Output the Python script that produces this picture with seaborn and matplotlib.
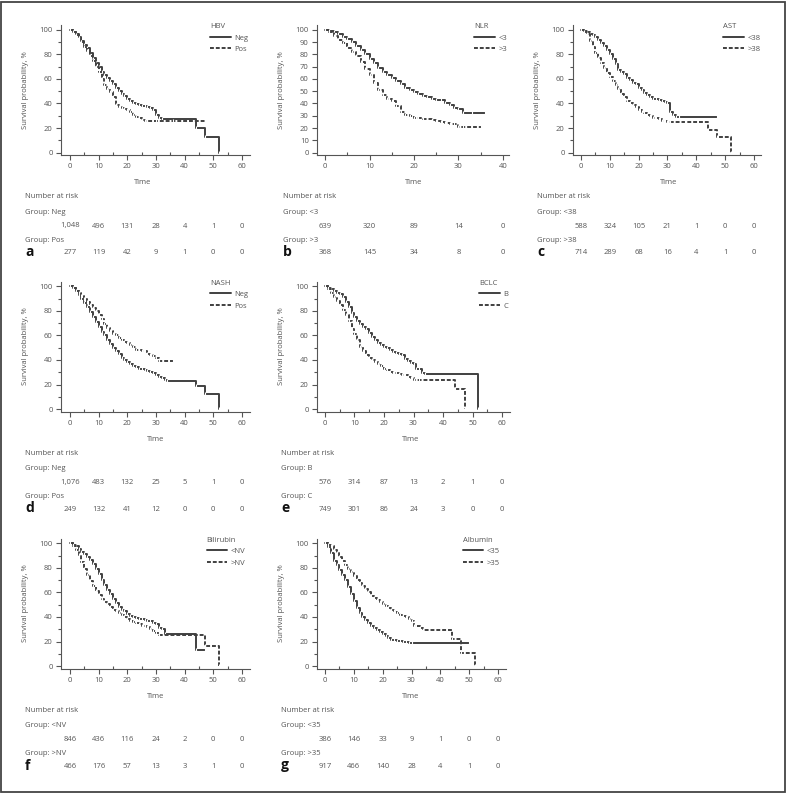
import matplotlib
matplotlib.use("Agg")
import matplotlib.pyplot as plt
import matplotlib.transforms as mtransforms
from matplotlib.lines import Line2D
from matplotlib.patches import Rectangle
import pandas as pd
import seaborn as sns

# ---------------- data ----------------
# a: HBV
hbv_neg_t = [0, 1, 2, 3, 4, 5, 6, 7, 8, 9, 10, 11, 12, 13, 14, 15, 16, 17, 18, 19, 20, 21, 22, 23, 24, 25, 26, 27, 28, 29, 30, 31, 32, 44, 47, 52]
hbv_neg_s = [100, 98.5, 97, 94, 91, 88, 85, 81, 77, 73, 70, 66, 63, 60.5, 58, 55.5, 53, 50.5, 48, 46, 44, 42, 40.5, 39.5, 38.5, 38, 38, 37.5, 36, 34.5, 31, 28.5, 27, 20, 13, 0]
hbv_pos_t = [0, 1, 2, 3, 4, 5, 6, 7, 8, 9, 10, 11, 12, 13, 14, 15, 16, 17, 18, 19, 20, 21, 22, 23, 24, 25, 26, 30, 36, 47]
hbv_pos_s = [100, 98, 96, 93, 90, 86, 83, 79, 75, 70, 66, 60, 55, 52, 49, 45, 39, 37, 36, 35.5, 34.5, 33, 31, 29, 28, 26.5, 26, 26, 26, 26]
# b: NLR
nlr_lo_t = [0, 1, 2, 3, 4, 5, 6, 7, 8, 9, 10, 11, 12, 13, 14, 15, 16, 17, 18, 19, 20, 21, 22, 23, 24, 25, 26, 27, 28, 29, 30, 31, 33, 36]
nlr_lo_s = [100, 99, 98, 96.5, 94.5, 92.5, 90, 87, 83.5, 80, 76, 73, 69, 66, 63, 60.5, 58, 55.5, 53, 51, 49, 47.5, 46, 45, 44, 43, 42.5, 40.5, 38.5, 36.5, 35.5, 32, 32, 32]
nlr_hi_t = [0, 1, 2, 3, 4, 5, 6, 7, 8, 9, 10, 11, 12, 13, 14, 15, 16, 17, 18, 19, 20, 21, 22, 23, 24, 25, 26, 27, 28, 29, 30, 31, 33, 35]
nlr_hi_s = [100, 98, 95, 92, 89, 85, 82, 79, 74, 68, 63, 57, 51, 47, 44, 42, 38, 33, 31, 29.5, 28.5, 28, 27.5, 27, 26.5, 25.5, 25, 24, 23.5, 23, 21, 21, 20.5, 20.5]
# c: AST
ast_lo_t = [0, 1, 2, 3, 4, 5, 6, 7, 8, 9, 10, 11, 12, 13, 14, 15, 16, 17, 18, 19, 20, 21, 22, 23, 24, 25, 26, 27, 28, 29, 30, 31, 32, 33, 34, 47]
ast_lo_s = [100, 99, 98, 97, 95.5, 94, 92, 89.5, 87, 84, 80, 76, 72, 67.5, 66, 64, 61, 59, 57, 55.5, 53, 51, 48.5, 47, 45, 44, 43.5, 43, 42, 41.5, 40, 33, 31, 29, 28.7, 28.7]
ast_hi_t = [0, 1, 2, 3, 4, 5, 6, 7, 8, 9, 10, 11, 12, 13, 14, 15, 16, 17, 18, 19, 20, 21, 22, 23, 24, 25, 26, 27, 28, 29, 30, 31, 36, 44, 47, 52]
ast_hi_s = [100, 98.5, 97, 91, 86, 81, 77, 73, 69, 65, 62, 58.5, 55, 51.5, 48, 45, 42, 40.5, 38.5, 37, 34.5, 33, 32, 30.5, 29.5, 28.5, 28.5, 27, 26, 25.5, 25, 24.5, 24.5, 18.5, 12.5, 0]
# d: NASH
nash_neg_t = [0, 1, 2, 3, 4, 5, 6, 7, 8, 9, 10, 11, 12, 13, 14, 15, 16, 17, 18, 19, 20, 21, 22, 23, 24, 25, 26, 27, 28, 29, 30, 31, 32, 33, 34, 44, 47, 52]
nash_neg_s = [100, 98.5, 96, 93, 90, 86.5, 83, 79, 75, 71, 67, 63, 60, 56.5, 53, 50, 47, 44.5, 42, 40, 38, 36.5, 35, 34, 33, 32.5, 32, 31, 30.5, 29, 27.5, 26, 25, 24, 23.2, 18.6, 12.3, 0]
nash_pos_t = [0, 1, 2, 3, 4, 5, 6, 7, 8, 9, 10, 11, 12, 13, 14, 15, 16, 17, 18, 19, 20, 21, 22, 23, 24, 25, 26, 27, 28, 29, 30, 31, 36]
nash_pos_s = [100, 98.5, 96.5, 94.5, 92.5, 90, 87.5, 85, 82.5, 80, 77, 73.5, 69.5, 66, 63.5, 61.5, 60, 58, 56, 55, 53.5, 52, 50.5, 48.5, 48, 47.5, 47.5, 44.5, 44, 43.5, 42, 39.5, 39.5]
# e: BCLC
bclc_b_t = [0, 1, 2, 3, 4, 5, 6, 7, 8, 9, 10, 11, 12, 13, 14, 15, 16, 17, 18, 19, 20, 21, 22, 23, 24, 25, 26, 27, 28, 29, 30, 31, 32, 33, 34, 52]
bclc_b_s = [100, 99, 97.5, 96, 95, 94, 91, 87, 83, 78.5, 75, 71.5, 69, 67, 65, 62, 58.5, 56, 54, 52, 50.5, 49.5, 48.5, 46.5, 45.5, 45, 44, 40.5, 39.5, 37.5, 37, 33, 32.5, 29, 28.7, 0]
bclc_c_t = [0, 1, 2, 3, 4, 5, 6, 7, 8, 9, 10, 11, 12, 13, 14, 15, 16, 17, 18, 19, 20, 21, 22, 23, 24, 25, 26, 27, 28, 29, 30, 31, 32, 33, 44, 47.3]
bclc_c_s = [100, 98, 94.5, 91, 88, 84.5, 80.5, 76.5, 72, 65.5, 61, 56, 51, 47.5, 44, 42, 40, 38.5, 36.5, 35, 33, 31.5, 30, 29.5, 29, 28.5, 28, 27.5, 26.5, 25, 24, 23.5, 23.5, 23.5, 16.4, 0]
# f: Bilirubin
bil_lo_t = [0, 1, 2, 3, 4, 5, 6, 7, 8, 9, 10, 11, 12, 13, 14, 15, 16, 17, 18, 19, 20, 21, 22, 23, 24, 25, 26, 27, 28, 29, 30, 31, 32, 33, 44, 47]
bil_lo_s = [100, 99, 97.5, 95.5, 93, 91, 89, 86.5, 83.5, 79.5, 75, 70, 66, 62, 58.5, 55, 51.5, 48.5, 46, 44.5, 42.5, 41, 40, 39, 38.5, 38, 37.5, 37, 36.5, 35.5, 34, 31, 30, 26.5, 13, 13]
bil_hi_t = [0, 1, 2, 3, 4, 5, 6, 7, 8, 9, 10, 11, 12, 13, 14, 15, 16, 17, 18, 19, 20, 21, 22, 23, 24, 25, 26, 27, 28, 29, 30, 31, 47, 52]
bil_hi_s = [100, 98, 95, 90.5, 85, 79, 74, 69, 65, 61, 58, 55, 52.5, 50.5, 48, 46, 44.5, 43, 41.5, 40, 38.5, 37, 36, 35, 34, 33, 32.5, 31.5, 30, 28.5, 27, 25.4, 16.4, 0]
# g: Albumin
alb_lo_t = [0, 1, 2, 3, 4, 5, 6, 7, 8, 9, 10, 11, 12, 13, 14, 15, 16, 17, 18, 19, 20, 21, 22, 23, 24, 25, 26, 27, 28, 29, 30, 50]
alb_lo_s = [100, 97, 92, 86, 82, 78, 74.5, 70, 64.5, 58.5, 53, 47, 43.5, 40, 37.5, 35, 33, 31, 29.5, 27.5, 26, 24.5, 22.5, 21.5, 21, 20.5, 20.5, 20, 19.5, 19, 19, 19]
alb_hi_t = [0, 1, 2, 3, 4, 5, 6, 7, 8, 9, 10, 11, 12, 13, 14, 15, 16, 17, 18, 19, 20, 21, 22, 23, 24, 25, 26, 27, 28, 29, 30, 31, 33, 34, 44, 47, 52]
alb_hi_s = [100, 99, 97.5, 95, 92, 89, 85.5, 82.5, 79.5, 76.5, 73.5, 70, 67.5, 65.5, 62.5, 60, 57, 55.5, 54, 52, 50.5, 49, 47, 46, 44.5, 43, 42, 41, 40, 38, 36.5, 33, 31, 29.5, 22, 11, 0]

# numbers at risk
risk_times_60 = [0, 10, 20, 30, 40, 50, 60]
risk_times_40 = [0, 10, 20, 30, 40]
hbv_risk_neg = [1048, 496, 131, 28, 4, 1, 0]
hbv_risk_pos = [277, 119, 42, 9, 1, 0, 0]
nlr_risk_lo = [639, 320, 89, 14, 0]
nlr_risk_hi = [368, 145, 34, 8, 0]
ast_risk_lo = [588, 324, 105, 21, 1, 0, 0]
ast_risk_hi = [714, 289, 68, 16, 4, 1, 0]
nash_risk_neg = [1076, 483, 132, 25, 5, 1, 0]
nash_risk_pos = [249, 132, 41, 12, 0, 0, 0]
bclc_risk_b = [576, 314, 87, 13, 2, 1, 0]
bclc_risk_c = [749, 301, 86, 24, 3, 0, 0]
bil_risk_lo = [846, 436, 116, 24, 2, 0, 0]
bil_risk_hi = [466, 176, 57, 13, 3, 1, 0]
alb_risk_lo = [386, 146, 33, 9, 1, 0, 0]
alb_risk_hi = [917, 466, 140, 28, 4, 1, 0]

# ---------------- style ----------------
sns.set_style("ticks")
plt.rcParams["font.family"] = ["Open Sans", "DejaVu Sans"]
TXT = "#555555"
LINE = "#404040"
FS = 5.5
LW = 1.4

W, H = 787, 793
fig = plt.figure(figsize=(W / 100, H / 100), dpi=100)


def fy(py):
    return 1 - py / H


panels = [
    dict(letter="a", title="HBV", labels=["Neg", "Pos"],
         curves=[(hbv_neg_t, hbv_neg_s), (hbv_pos_t, hbv_pos_s)],
         risk=[hbv_risk_neg, hbv_risk_pos], rt=risk_times_60,
         rect=(61, 25, 250, 155), xlim=(-3.14, 62.8), xmax=60, ystep=20,
         tx=0.434, lx=0.788, txt_x=25, row=0),
    dict(letter="b", title="NLR", labels=["<3", ">3"],
         curves=[(nlr_lo_t, nlr_lo_s), (nlr_hi_t, nlr_hi_s)],
         risk=[nlr_risk_lo, nlr_risk_hi], rt=risk_times_40,
         rect=(317, 25, 509, 155), xlim=(-1.8, 41.35), xmax=40, ystep=10,
         tx=0.505, lx=0.818, txt_x=283, row=0),
    dict(letter="c", title="AST", labels=["<38", ">38"],
         curves=[(ast_lo_t, ast_lo_s), (ast_hi_t, ast_hi_s)],
         risk=[ast_risk_lo, ast_risk_hi], rt=risk_times_60,
         rect=(573, 25, 761, 155), xlim=(-2.77, 62.43), xmax=60, ystep=20,
         tx=0.51, lx=0.80, txt_x=537, row=0),
    dict(letter="d", title="NASH", labels=["Neg", "Pos"],
         curves=[(nash_neg_t, nash_neg_s), (nash_pos_t, nash_pos_s)],
         risk=[nash_risk_neg, nash_risk_pos], rt=risk_times_60,
         rect=(61, 281.5, 250, 411.5), xlim=(-3.14, 62.8), xmax=60, ystep=20,
         tx=0.50, lx=0.788, txt_x=25, row=1),
    dict(letter="e", title="BCLC", labels=["B", "C"],
         curves=[(bclc_b_t, bclc_b_s), (bclc_c_t, bclc_c_s)],
         risk=[bclc_risk_b, bclc_risk_c], rt=risk_times_60,
         rect=(317, 281.5, 510, 411.5), xlim=(-2.71, 62.71), xmax=60, ystep=20,
         tx=0.484, lx=0.84, txt_x=281, row=1),
    dict(letter="f", title="Bilirubin", labels=["<NV", ">NV"],
         curves=[(bil_lo_t, bil_lo_s), (bil_hi_t, bil_hi_s)],
         risk=[bil_risk_lo, bil_risk_hi], rt=risk_times_60,
         rect=(61, 538.5, 250, 668.5), xlim=(-3.14, 62.8), xmax=60, ystep=20,
         tx=0.50, lx=0.77, txt_x=25, row=2),
    dict(letter="g", title="Albumin", labels=["<35", ">35"],
         curves=[(alb_lo_t, alb_lo_s), (alb_hi_t, alb_hi_s)],
         risk=[alb_risk_lo, alb_risk_hi], rt=risk_times_60,
         rect=(317, 538.5, 506, 668.5), xlim=(-2.77, 62.77), xmax=60, ystep=20,
         tx=0.495, lx=0.77, txt_x=281, row=2),
]

row_off = [0, 256.5, 513.5]
DASH = (2.0, 1.0)

for p in panels:
    l, t, r, b = p["rect"]
    ax = fig.add_axes([l / W, 1 - b / H, (r - l) / W, (b - t) / H])
    frames = []
    for lab, (tt, ss) in zip(p["labels"], p["curves"]):
        frames.append(pd.DataFrame({"Time": tt, "S": ss, "Group": lab}))
    df = pd.concat(frames, ignore_index=True)
    sns.lineplot(data=df, x="Time", y="S", style="Group", ax=ax, color=LINE,
                 estimator=None, sort=True, drawstyle="steps-post",
                 dashes={p["labels"][0]: "", p["labels"][1]: DASH},
                 markers={p["labels"][0]: "|", p["labels"][1]: "|"},
                 markersize=2.2, markeredgewidth=0.8, linewidth=LW, legend=False)
    ax.set_xlim(*p["xlim"])
    ax.set_ylim(-2, 104)
    ax.set_xticks(range(0, p["xmax"] + 1, 10))
    ax.set_xticks(range(5, p["xmax"], 10), minor=True)
    ax.set_yticks(range(0, 101, p["ystep"]))
    if p["ystep"] == 20:
        ax.set_yticks(range(10, 100, 20), minor=True)
    for sp in ["top", "right"]:
        ax.spines[sp].set_visible(False)
    for sp in ["left", "bottom"]:
        ax.spines[sp].set_color(TXT)
        ax.spines[sp].set_linewidth(0.8)
    ax.tick_params(axis="both", which="major", direction="out", length=3.5,
                   width=0.8, color=TXT, labelsize=FS, labelcolor=TXT, pad=2.5)
    ax.tick_params(axis="x", which="minor", direction="in", length=2.5, width=0.8, color=TXT)
    ax.tick_params(axis="y", which="minor", direction="out", length=2.5, width=0.8, color=TXT)
    ax.set_xlabel("Time", fontsize=FS, color=TXT)
    ax.set_ylabel("Survival probability, %", fontsize=FS, color=TXT)
    ax.xaxis.set_label_coords(p["tx"], -28 / 130)
    ax.yaxis.set_label_coords(-32 / (r - l), 0.5)
    ax.xaxis.label.set_va("center")

    handles = [Line2D([0], [0], color=LINE, lw=LW),
               Line2D([0], [0], color=LINE, lw=LW, dashes=DASH)]
    leg = ax.legend(handles, p["labels"], title=p["title"], loc="upper left",
                    bbox_to_anchor=(p["lx"], 1.015), frameon=False, alignment="left",
                    borderpad=0, borderaxespad=0, handlelength=2.7, handletextpad=0.5,
                    labelspacing=0.55, fontsize=FS, title_fontsize=FS)
    for txt in leg.get_texts():
        txt.set_color(TXT)
    leg.get_title().set_color(TXT)

    off = row_off[p["row"]]
    x0 = p["txt_x"] / W
    fig.text(x0, fy(197 + off), "Number at risk", fontsize=FS, color=TXT, va="center", ha="left")
    fig.text(x0, fy(212 + off), "Group: " + p["labels"][0], fontsize=FS, color=TXT, va="center", ha="left")
    fig.text(x0, fy(240 + off), "Group: " + p["labels"][1], fontsize=FS, color=TXT, va="center", ha="left")
    fig.text(x0, fy(252 + off), p["letter"], fontsize=10, fontweight="bold", color="#111111",
             va="center", ha="left")
    trans = mtransforms.blended_transform_factory(ax.transData, fig.transFigure)
    for tv, n1, n2 in zip(p["rt"], p["risk"][0], p["risk"][1]):
        ax.text(tv, fy(226 + off), f"{n1:,}", transform=trans, fontsize=FS, color=TXT,
                ha="center", va="center", clip_on=False)
        ax.text(tv, fy(253 + off), f"{n2:,}", transform=trans, fontsize=FS, color=TXT,
                ha="center", va="center", clip_on=False)

fig.add_artist(Rectangle((0.6 / W, 0.6 / H), (W - 3) / W, (H - 3) / H, transform=fig.transFigure,
                         fill=False, edgecolor="#444444", linewidth=1.3))

fig.savefig("out.png", dpi=100)
